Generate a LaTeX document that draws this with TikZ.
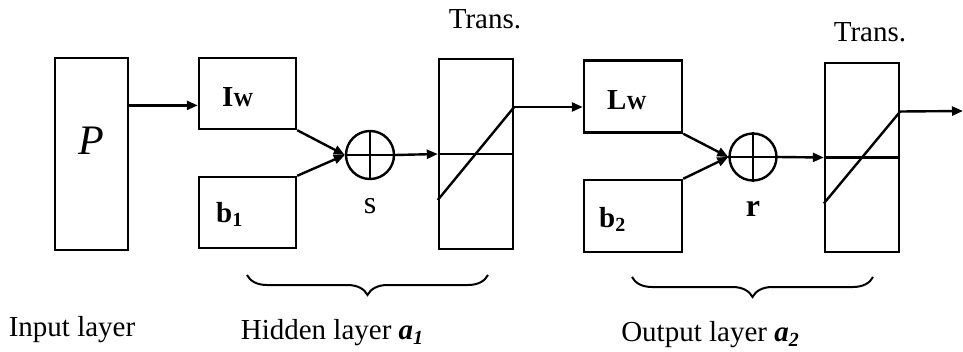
\documentclass[tikz,border=0pt]{standalone}
\usepackage{fontspec}
\setmainfont{Liberation Serif}
\usetikzlibrary{calc,arrows.meta,decorations.pathreplacing}
\begin{document}
\begin{tikzpicture}[x=1pt,y=-1pt,line width=2.4pt,
  box/.style={draw,rectangle,inner sep=0pt},
  sumc/.style={draw,circle,minimum size=48pt,inner sep=0pt},
  lbl/.style={font=\fontsize{29}{31}\selectfont,inner sep=0pt},
  arr/.style={-{Triangle[length=11pt,width=9pt]}},
  brc/.style={decorate,decoration={brace,amplitude=20pt,mirror},line width=2pt}]
\useasboundingbox (0,0) rectangle (963,351);
% boxes
\node[box,minimum width=73pt,minimum height=192pt] (P) at (91.5,154) {};
\node[lbl,font=\fontsize{42}{44}\selectfont\itshape] (Ptxt) at (91.5,141) {P};
\node[box,minimum width=97pt,minimum height=71pt] (Iw) at (247.5,93.5) {};
\node[lbl,anchor=west] (Iwt) at (221,97) {\textbf{I}{\fontsize{20}{20}\selectfont\bfseries W}};
\node[box,minimum width=97pt,minimum height=71pt] (b1) at (247.5,212.5) {};
\node[lbl,anchor=west] (b1t) at (215,214) {\textbf{b}\raisebox{-0.3ex}{\fontsize{20}{20}\selectfont\bfseries 1}};
\node[sumc] (s1) at (370,155) {};
\node[lbl,font=\fontsize{32}{34}\selectfont] (st) at (370,206) {s};
\node[box,minimum width=74pt,minimum height=190pt] (T1) at (476,154) {};
\node[lbl] (T1t) at (485,19) {Trans.};
\node[box,minimum width=98pt,minimum height=72pt] (Lw) at (633,96.5) {};
\node[lbl,anchor=west] (Lwt) at (606,100) {\textbf{L}{\fontsize{20}{20}\selectfont\bfseries W}};
\node[box,minimum width=98pt,minimum height=72pt] (b2) at (633,216) {};
\node[lbl,anchor=west] (b2t) at (598,219) {\textbf{b}\raisebox{-0.3ex}{\fontsize{20}{20}\selectfont\bfseries 2}};
\node[sumc,minimum size=47pt] (s2) at (753,157) {};
\node[lbl,font=\fontsize{32}{34}\selectfont\bfseries] (rt) at (753,209) {r};
\node[box,minimum width=74pt,minimum height=189pt] (T2) at (862,157.5) {};
\node[lbl] (T2t) at (870,32) {Trans.};
% sum crosses
\draw (s1.north) -- (s1.south);
\draw (s2.north) -- (s2.south);
% transfer function lines
\draw (T1.west) -- (T1.east);
\draw ($(T1.west)+(0,46)$) coordinate (T1lo) -- ($(T1.east)+(0,-47)$) coordinate (T1hi);
\draw (T2.west) -- (T2.east);
\draw ($(T2.west)+(0,46)$) coordinate (T2lo) -- ($(T2.east)+(0,-46)$) coordinate (T2hi);
% connectors
\coordinate (Pout) at ($(P.north east)!0.25!(P.south east)$);
\draw[arr] (Pout) -- (Pout -| Iw.west);
\draw[arr] (Iw.south east) -- (s1.west);
\draw[arr] (b1.north east) -- (s1.west);
\draw (s1.west) -- (s1.east);
\draw[arr] (s1.east) -- (T1.west);
\draw[arr] (T1hi) -- (T1hi -| Lw.west);
\draw[arr] (Lw.south east) -- (s2.west);
\draw[arr] (b2.north east) -- (s2.west);
\draw (s2.west) -- (s2.east);
\draw[arr] (s2.east) -- (T2.west);
\coordinate (out) at (963,111);
\draw[arr] (T2hi) -- (out);
% braces
\draw[brc] (247,275) -- (488,275);
\draw[brc] (632,277) -- (873,277);
% layer labels
\node[lbl] (in) at (72,330) {Input layer};
\node[lbl] (hid) at (332,333) {Hidden layer \textbf{\textit{a}}\raisebox{-0.35ex}{\fontsize{20}{20}\selectfont\bfseries\itshape 1}};
\node[lbl] (outl) at (710,335) {Output layer \textbf{\textit{a}}\raisebox{-0.35ex}{\fontsize{20}{20}\selectfont\bfseries\itshape 2}};
\end{tikzpicture}
\end{document}
